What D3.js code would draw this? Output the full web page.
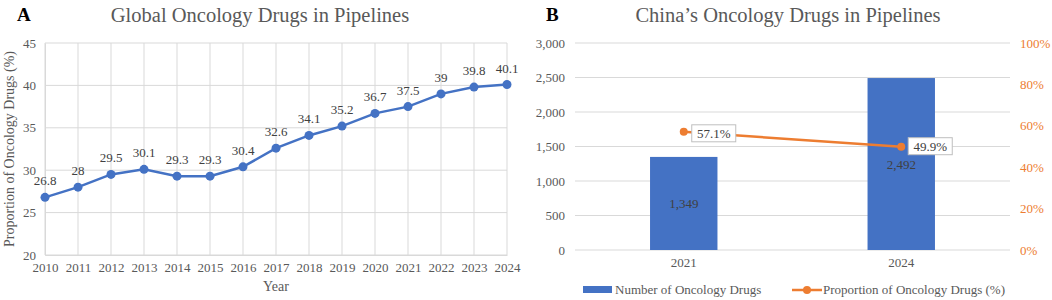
<!DOCTYPE html>
<html>
<head>
<meta charset="utf-8">
<script src="https://cdn.jsdelivr.net/npm/d3@7"></script>
<style>
  body { margin: 0; background: #fff; }
  svg { display: block; font-family: "Liberation Serif", "Times New Roman", serif; }
</style>
</head>
<body>
<div id="chart"></div>
<script>
// Panel A: global share of oncology drugs in pipelines
var years = [2010, 2011, 2012, 2013, 2014, 2015, 2016, 2017, 2018, 2019, 2020, 2021, 2022, 2023, 2024];
var globalShare = [26.8, 28, 29.5, 30.1, 29.3, 29.3, 30.4, 32.6, 34.1, 35.2, 36.7, 37.5, 39, 39.8, 40.1];
var shareTicks = [20, 25, 30, 35, 40, 45];

// Panel B: China
var chinaYears = ['2021', '2024'];
var chinaCount = [1349, 2492];
var chinaShare = [57.1, 49.9];
var countTicks = [0, 500, 1000, 1500, 2000, 2500, 3000];
var pctTicks = [0, 20, 40, 60, 80, 100];

var blue = '#4472C4', orange = '#ED7D31', grid = '#d9d9d9', txt = '#595959';

var svg = d3.select('#chart').append('svg')
    .attr('width', 1052)
    .attr('height', 300);

// ---------- Panel A ----------
var xA = d3.scalePoint().domain(years).range([45, 507]);
var yA = d3.scaleLinear().domain([20, 45]).range([255, 43]);

var gA = svg.append('g');

gA.append('text').attr('x', 17).attr('y', 21)
  .attr('font-size', 19).attr('font-weight', 'bold').attr('fill', '#000').text('A');
gA.append('text').attr('x', 260).attr('y', 22).attr('text-anchor', 'middle')
  .attr('font-size', 20.5).attr('fill', txt).text('Global Oncology Drugs in Pipelines');

// grid
gA.append('g').selectAll('line').data(shareTicks).enter().append('line')
  .attr('x1', 45).attr('x2', 507)
  .attr('y1', function(d) { return yA(d); }).attr('y2', function(d) { return yA(d); })
  .attr('stroke', grid).attr('stroke-width', 1);
gA.append('g').selectAll('line').data(years).enter().append('line')
  .attr('x1', function(d) { return xA(d); }).attr('x2', function(d) { return xA(d); })
  .attr('y1', yA(45)).attr('y2', yA(20))
  .attr('stroke', grid).attr('stroke-width', 1);

var axA = gA.append('g').attr('transform', 'translate(45,0)')
  .call(d3.axisLeft(yA).tickValues(shareTicks).tickSize(0).tickPadding(9));
axA.select('.domain').attr('stroke', grid);
axA.selectAll('text').attr('font-size', 13).attr('fill', txt).attr('font-family', 'Liberation Serif');

var axAx = gA.append('g').attr('transform', 'translate(0,255)')
  .call(d3.axisBottom(xA).tickSize(0).tickPadding(8));
axAx.select('.domain').attr('stroke', grid);
axAx.selectAll('text').attr('font-size', 13).attr('fill', txt).attr('font-family', 'Liberation Serif');

gA.append('text').attr('x', 276).attr('y', 291).attr('text-anchor', 'middle')
  .attr('font-size', 14).attr('fill', txt).text('Year');
gA.append('text').attr('transform', 'translate(14,149) rotate(-90)').attr('text-anchor', 'middle')
  .attr('font-size', 14).attr('fill', txt).text('Proportion of Oncology Drugs (%)');

var ptsA = years.map(function(y, i) { return {year: y, value: globalShare[i]}; });
var lineA = d3.line().x(function(d) { return xA(d.year); }).y(function(d) { return yA(d.value); });
gA.append('path').datum(ptsA).attr('d', lineA)
  .attr('fill', 'none').attr('stroke', blue).attr('stroke-width', 2.5);
gA.append('g').selectAll('circle').data(ptsA).enter().append('circle')
  .attr('cx', function(d) { return xA(d.year); }).attr('cy', function(d) { return yA(d.value); })
  .attr('r', 4.5).attr('fill', blue);
gA.append('g').selectAll('text').data(ptsA).enter().append('text')
  .attr('x', function(d) { return xA(d.year); }).attr('y', function(d) { return yA(d.value) - 12; })
  .attr('text-anchor', 'middle').attr('font-size', 13).attr('fill', '#404040')
  .text(function(d) { return d.value; });

// ---------- Panel B ----------
var xB = d3.scaleBand().domain(chinaYears).range([575, 1010]);
var yB = d3.scaleLinear().domain([0, 3000]).range([250, 43]);
var yP = d3.scaleLinear().domain([0, 100]).range([250, 43]);
var barW = xB.bandwidth() * 0.31;

var gB = svg.append('g');
gB.append('text').attr('x', 546).attr('y', 21)
  .attr('font-size', 19).attr('font-weight', 'bold').attr('fill', '#000').text('B');
gB.append('text').attr('x', 788).attr('y', 22).attr('text-anchor', 'middle')
  .attr('font-size', 20.5).attr('fill', txt).text('China\u2019s Oncology Drugs in Pipelines');

gB.append('g').selectAll('line').data(countTicks).enter().append('line')
  .attr('x1', 575).attr('x2', 1010)
  .attr('y1', function(d) { return yB(d); }).attr('y2', function(d) { return yB(d); })
  .attr('stroke', grid).attr('stroke-width', 1);

var axL = gB.append('g').attr('transform', 'translate(575,0)')
  .call(d3.axisLeft(yB).tickValues(countTicks).tickSize(0).tickPadding(10).tickFormat(d3.format(',')));
axL.select('.domain').remove();
axL.selectAll('text').attr('font-size', 13).attr('fill', txt).attr('font-family', 'Liberation Serif');

var axR = gB.append('g').attr('transform', 'translate(1010,0)')
  .call(d3.axisRight(yP).tickValues(pctTicks).tickSize(0).tickPadding(10).tickFormat(function(d) { return d + '%'; }));
axR.select('.domain').remove();
axR.selectAll('text').attr('font-size', 13).attr('fill', orange).attr('font-family', 'Liberation Serif');

var axB = gB.append('g').attr('transform', 'translate(0,250)')
  .call(d3.axisBottom(xB).tickSize(0).tickPadding(8));
axB.select('.domain').remove();
axB.selectAll('text').attr('font-size', 13).attr('fill', txt).attr('font-family', 'Liberation Serif');

var ptsB = chinaYears.map(function(y, i) { return {year: y, count: chinaCount[i], share: chinaShare[i]}; });
function cx(d) { return xB(d.year) + xB.bandwidth() / 2; }

gB.append('g').selectAll('rect').data(ptsB).enter().append('rect')
  .attr('x', function(d) { return cx(d) - barW / 2; })
  .attr('y', function(d) { return yB(d.count); })
  .attr('width', barW)
  .attr('height', function(d) { return 250 - yB(d.count); })
  .attr('fill', blue);
gB.append('g').selectAll('text').data(ptsB).enter().append('text')
  .attr('x', cx)
  .attr('y', function(d) { return (yB(d.count) + 250) / 2 + 4.5; })
  .attr('text-anchor', 'middle').attr('font-size', 13).attr('fill', '#404040')
  .text(function(d) { return d3.format(',')(d.count); });

var lineB = d3.line().x(cx).y(function(d) { return yP(d.share); });
gB.append('path').datum(ptsB).attr('d', lineB)
  .attr('fill', 'none').attr('stroke', orange).attr('stroke-width', 2.5);
gB.append('g').selectAll('circle').data(ptsB).enter().append('circle')
  .attr('cx', cx).attr('cy', function(d) { return yP(d.share); })
  .attr('r', 4).attr('fill', orange);

var offs = [{dx: 8, dy: -7}, {dx: 7, dy: -9}];
var lbl = gB.append('g').selectAll('g').data(ptsB).enter().append('g')
  .attr('transform', function(d, i) { return 'translate(' + (cx(d) + offs[i].dx) + ',' + (yP(d.share) + offs[i].dy) + ')'; });
lbl.append('rect').attr('width', 44).attr('height', 17)
  .attr('fill', '#fff').attr('stroke', '#bfbfbf').attr('stroke-width', 1);
lbl.append('text').attr('x', 22).attr('y', 13).attr('text-anchor', 'middle')
  .attr('font-size', 13).attr('fill', '#404040')
  .text(function(d) { return d.share.toFixed(1) + '%'; });

// legend
var lg = gB.append('g');
lg.append('rect').attr('x', 583).attr('y', 286).attr('width', 29).attr('height', 7).attr('fill', blue);
lg.append('text').attr('x', 615).attr('y', 294).attr('font-size', 13).attr('fill', txt).text('Number of Oncology Drugs');
lg.append('line').attr('x1', 792).attr('x2', 822).attr('y1', 290).attr('y2', 290)
  .attr('stroke', orange).attr('stroke-width', 2.5);
lg.append('circle').attr('cx', 807).attr('cy', 290).attr('r', 4).attr('fill', orange);
lg.append('text').attr('x', 823).attr('y', 294).attr('font-size', 13).attr('fill', txt).text('Proportion of Oncology Drugs (%)');
</script>
</body>
</html>
